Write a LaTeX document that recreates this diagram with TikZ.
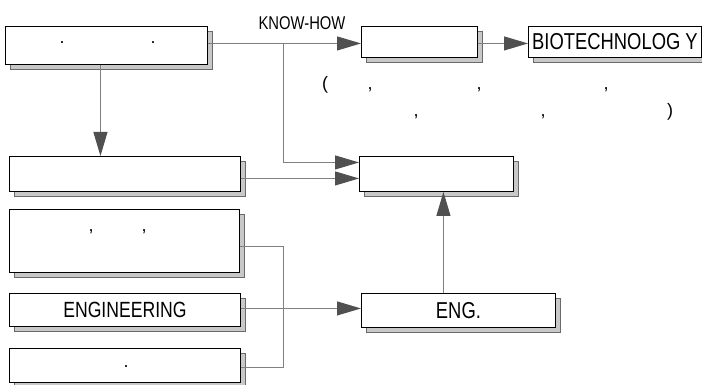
\documentclass[tikz,border=0pt]{standalone}
\usepackage{fontspec}
\setmainfont{Liberation Sans}
\newfontfamily\cf[FakeStretch=0.8]{Liberation Sans}
\usetikzlibrary{arrows.meta,shadows}
\definecolor{lc}{HTML}{808080}
\definecolor{ac}{HTML}{505050}
\definecolor{sc}{HTML}{C8C8C8}
\definecolor{se}{HTML}{6A6A6A}
\begin{document}
\begin{tikzpicture}[x=1pt,y=-1pt,
  box/.style={draw=black,line width=0.9pt,fill=white,inner sep=0pt,anchor=north west,
    general shadow={shadow xshift=5pt,shadow yshift=-5pt,fill=sc,draw=se,line width=0.5pt}},
  conn/.style={draw=lc,line width=1pt},
  arr/.style={conn,-{Triangle[length=24pt,width=14pt,color=ac]}},
  punct/.style={font=\fontsize{18}{18}\selectfont,inner sep=0pt,anchor=base},
  big/.style={font=\cf\fontsize{23}{23}\selectfont}]
\useasboundingbox (0,0) rectangle (702,385);
% boxes
\node[box,minimum width=202pt,minimum height=38pt] (A) at (5,26) {};
\node[box,minimum width=116pt,minimum height=31pt] (B) at (361,26) {};
\node[box,minimum width=173pt,minimum height=31pt,big] (bio) at (528,26) {BIOTECHNOLOG Y};
\node[box,minimum width=231pt,minimum height=35pt] (C) at (9,156) {};
\node[box,minimum width=230pt,minimum height=63pt] (D) at (9,209) {};
\node[box,minimum width=231pt,minimum height=33pt,font=\cf\fontsize{22}{22}\selectfont] (G) at (9,293) {ENGINEERING\hspace{41pt}};
\node[box,minimum width=231pt,minimum height=34pt] (F) at (9,348) {};
\node[box,minimum width=154pt,minimum height=35pt] (E) at (359,156) {};
\node[box,minimum width=194pt,minimum height=34pt,big] (ENG) at (361,293) {ENG.};
% punctuation inside boxes
\node[punct] (a1) at (62,44) {.};
\node[punct] (a2) at (153,44) {.};
\node[punct] (d1) at (91,232) {,};
\node[punct] (d2) at (144,232) {,};
\node[punct] (f1) at (126,367) {.};
% bracketed note
\node[punct] (p1) at (325,90) {(};
\node[punct] (p2) at (370,90) {,};
\node[punct] (p3) at (479,90) {,};
\node[punct] (p4) at (606,90) {,};
\node[punct] (p5) at (416,117) {,};
\node[punct] (p6) at (543,117) {,};
\node[punct] (p7) at (670,117) {)};
% label
\node[font=\cf\fontsize{18.5}{18.5}\selectfont,inner sep=0pt] (kh) at (302,23) {KNOW-HOW};
% connectors
\coordinate (j1) at (283,43);
\coordinate (j2) at (283,308);
\draw[arr] ([yshift=2pt]A.east) -- ([yshift=2pt]A.east -| B.west);
\draw[arr] ([yshift=-1.5pt]B.east) -- ([yshift=-1.5pt]B.east -| bio.west);
\draw[arr] ([xshift=-6pt]A.south) -- ([xshift=-6pt]A.south |- C.north);
\draw[arr] (j1) |- ([yshift=11.5pt]E.west);
\draw[arr] ([yshift=-4.5pt]C.east) -- ([yshift=-4.5pt]C.east -| E.west);
\draw[conn] ([yshift=-5.5pt]D.east) -| (j2);
\draw[conn] ([yshift=-2pt]F.east) -| (j2);
\draw[arr] ([yshift=1.5pt]G.east) -- ([yshift=1.5pt]G.east -| ENG.west);
\draw[arr] ([xshift=-15pt]ENG.north) -- ([xshift=-15pt]ENG.north |- E.south);
\end{tikzpicture}
\end{document}
